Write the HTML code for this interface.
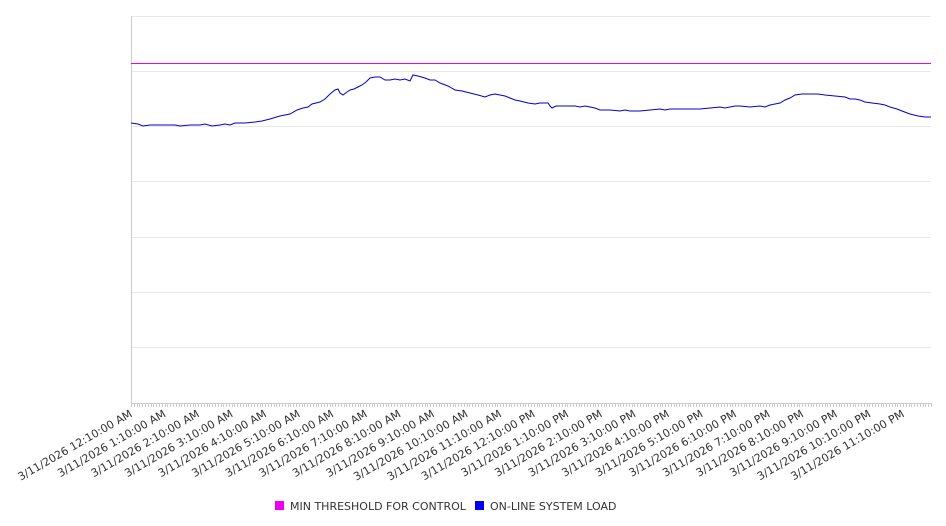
<!DOCTYPE html>
<html><head><meta charset="utf-8"><style>
html,body{margin:0;padding:0;background:#fff;}
body{position:relative;width:946px;height:526px;}
svg{display:block;font-family:"DejaVu Sans","Liberation Sans",sans-serif;}
#thr{position:absolute;left:131px;top:63px;width:800px;height:1px;background:#ee00ee;}
</style></head><body>
<svg width="946" height="526" viewBox="0 0 946 526">
<g stroke="#e8e8e8" stroke-width="1">
<line x1="131" y1="16.5" x2="931" y2="16.5"/>
<line x1="131" y1="71.5" x2="931" y2="71.5"/>
<line x1="131" y1="126.5" x2="931" y2="126.5"/>
<line x1="131" y1="181.5" x2="931" y2="181.5"/>
<line x1="131" y1="237.5" x2="931" y2="237.5"/>
<line x1="131" y1="292.5" x2="931" y2="292.5"/>
<line x1="131" y1="347.5" x2="931" y2="347.5"/>
</g>
<line x1="131.5" y1="16" x2="131.5" y2="403" stroke="#ccc"/>
<line x1="131" y1="403.5" x2="931" y2="403.5" stroke="#ccc"/>
<g id="ticks" stroke="#ccc"></g>
<polyline fill="none" stroke="#0000cc" stroke-width="1" points="131,123 138,124 143,126 150,125 165,125 175,125 180,126 190,125 200,125 205,124 212,126 220,125 225,124 230,125 235,123 245,123 255,122 262,121 270,119 280,116 290,114 297,110 303,108 308,107 312,104 320,102 325,99 330,94 335,90 338,89 340,93 343,95 347,92 350,90 354,89 358,87 362,85 366,82 370,78 375,77 380,77 385,80 390,80 395,79 400,80 405,79 410,81 413,75 418,76 425,78 430,80 435,80 440,83 448,86 455,90 462,91 470,93 478,95 485,97 490,95 495,94 500,95 505,96 510,98 515,100 520,101 528,103 535,104 540,103 548,103 550,106 552,108 556,106 560,106 568,106 575,106 580,107 585,106 590,107 595,108 600,110 610,110 620,111 625,110 630,111 640,111 650,110 660,109 665,110 670,109 680,109 690,109 700,109 710,108 720,107 725,108 735,106 740,106 750,107 760,106 765,107 770,105 775,104 780,103 785,100 790,98 795,95 802,94 810,94 818,94 825,95 835,96 845,97 850,99 855,99 860,100 865,102 872,103 880,104 885,105 890,107 897,109 902,111 910,114 918,116 925,117 931,117"/>
<g id="labels" font-size="11" fill="#333"></g>
<rect x="275" y="501" width="9" height="9" fill="#ee00ee"/>
<text x="290" y="510" font-size="11" fill="#333">MIN THRESHOLD FOR CONTROL</text>
<rect x="475" y="501" width="9" height="9" fill="#0000ee"/>
<text x="490" y="510" font-size="11" fill="#333">ON-LINE SYSTEM LOAD</text>
</svg>
<div id="thr"></div>
<script>
var ns="http://www.w3.org/2000/svg";
var t=document.getElementById("ticks");
for(var x=131;x<=931;x+=2.797){var l=document.createElementNS(ns,"line");l.setAttribute("x1",Math.round(x)+0.5);l.setAttribute("x2",Math.round(x)+0.5);l.setAttribute("y1",403);l.setAttribute("y2",407);t.appendChild(l);}
var g=document.getElementById("labels");
for(var h=0;h<24;h++){var hr=h%12==0?12:h%12;var s="3/11/2026 "+hr+":10:00 "+(h<12?"AM":"PM");
var x=133+33.57*h;var e=document.createElementNS(ns,"text");e.setAttribute("x",x);e.setAttribute("y",416);e.setAttribute("text-anchor","end");e.setAttribute("transform","rotate(-30 "+x+" 416)");e.textContent=s;g.appendChild(e);}
</script>
</body></html>
